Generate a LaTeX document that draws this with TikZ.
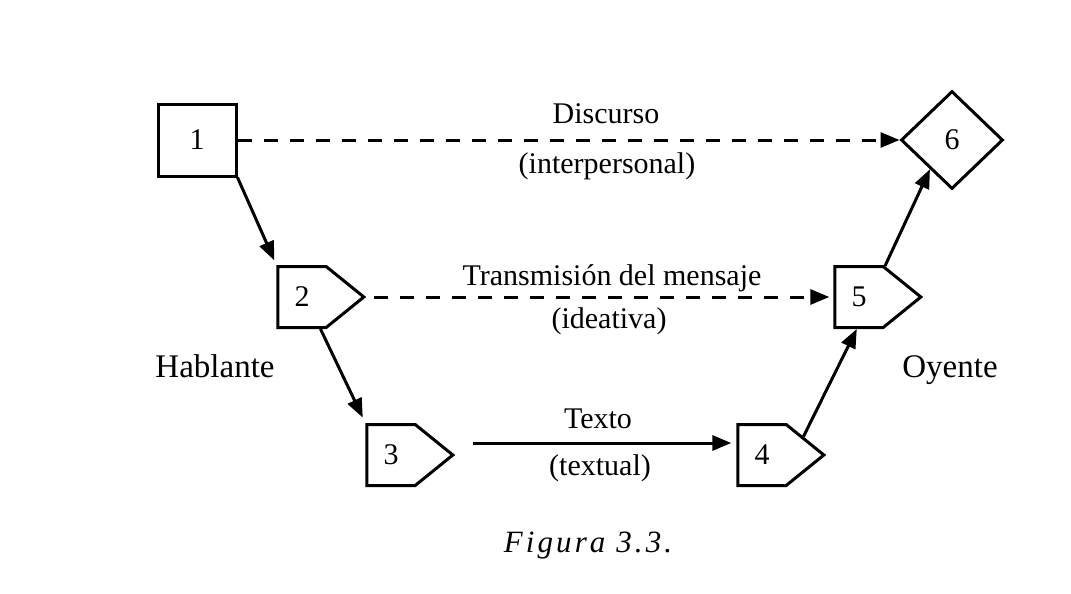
\documentclass[tikz,border=0pt]{standalone}
\usepackage{fontspec}
\setmainfont{Liberation Serif}
\newfontfamily\figfont[LetterSpace=10]{Liberation Serif}
\usetikzlibrary{arrows.meta,shapes.geometric,shapes.symbols}

\begin{document}
\begin{tikzpicture}[x=1pt, y=-1pt, line width=3pt,
  font=\fontsize{30}{35}\selectfont,
  box/.style={draw, minimum width=78pt, minimum height=72pt},
  tag/.style={draw, signal, signal to=east, signal from=nowhere,
    signal pointer angle=78, minimum width=86pt, minimum height=61pt},
  goal/.style={draw, diamond, minimum width=102pt, minimum height=98pt},
  side/.style={anchor=base, font=\fontsize{33}{38}\selectfont},
  link/.style={-{Triangle[length=19pt,width=15pt]}},
  talk/.style={link, dash pattern=on 14pt off 12pt}]
  \useasboundingbox (0,0) rectangle (1071,594);
  % the six stages
  \node [box] (n1) at (197,140) {1};
  \node [tag] (n2) at (302,297) {2};
  \node [tag] (n3) at (391,455) {3};
  \node [tag] (n4) at (762,455) {4};
  \node [tag] (n5) at (859,297) {5};
  \node [goal] (n6) at (952,140) {6};
  % connectors
  \draw [link, shorten >=5pt] (n1.south east) -- (n2.north west);
  \draw [link, shorten >=6pt] (n2.300) -- (n3.north west);
  \draw [link] ([xshift=18pt,yshift=12pt]n3.east) -- ([xshift=-5pt,yshift=12pt]n4.west);
  \draw [link] (n4.24) -- (n5.266);
  \draw [link] (n5.50) -- (n6.233);
  \draw [talk] (n1.east) -- (n6.west);
  \draw [talk] ([xshift=8pt]n2.east) -- ([xshift=-4pt]n5.west);
  % labels
  \node [anchor=base] (discurso) at (606,123) {Discurso};
  \node [anchor=base] (interp) at (607,173) {(interpersonal)};
  \node [anchor=base] (transm) at (612,285) {Transmisión del mensaje};
  \node [anchor=base] (ideat) at (609,328) {(ideativa)};
  \node [anchor=base] (texto) at (598,428) {Texto};
  \node [anchor=base] (textual) at (600,475) {(textual)};
  \node [side] (hablante) at (215,377) {Hablante};
  \node [side] (oyente) at (950,377) {Oyente};
  \node [anchor=base, font=\figfont\itshape\fontsize{31}{36}\selectfont] (caption) at (588,552) {Figura 3.3.};
\end{tikzpicture}
\end{document}
